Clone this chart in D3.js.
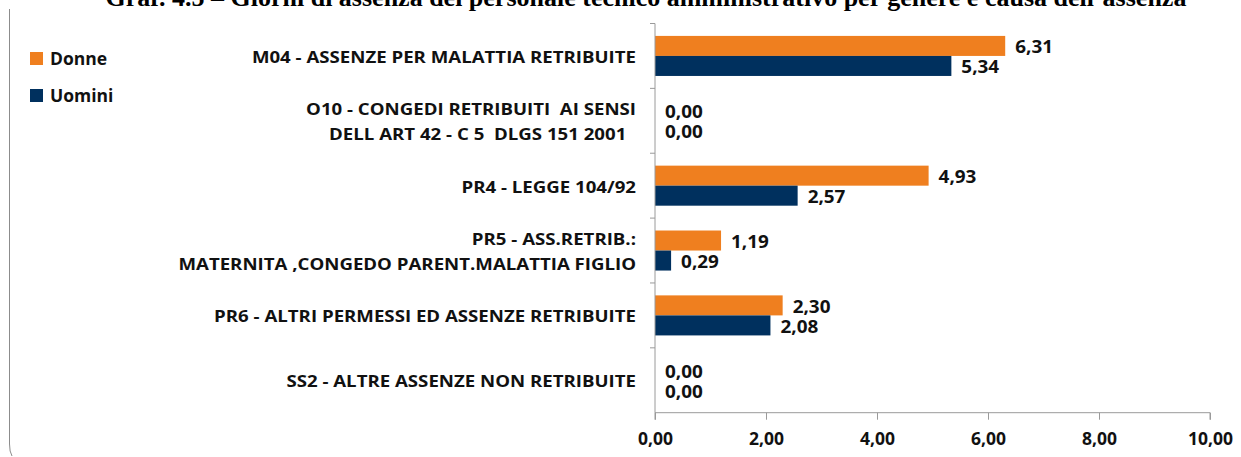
<!DOCTYPE html>
<html>
<head>
<meta charset="utf-8">
<script src="https://cdn.jsdelivr.net/npm/d3@7"></script>
<style>
  html, body { margin: 0; padding: 0; background: #fff; }
  svg { display: block; }
  text { white-space: pre; }
</style>
</head>
<body>
<svg id="chart" width="1241" height="457"></svg>
<script>
// Absence causes (each label split into its display lines)
const categories = [
  ["M04 - ASSENZE PER MALATTIA RETRIBUITE"],
  ["O10 - CONGEDI RETRIBUITI  AI SENSI", "DELL ART 42 - C 5  DLGS 151 2001  "],
  ["PR4 - LEGGE 104/92"],
  ["PR5 - ASS.RETRIB.:", "MATERNITA ,CONGEDO PARENT.MALATTIA FIGLIO"],
  ["PR6 - ALTRI PERMESSI ED ASSENZE RETRIBUITE"],
  ["SS2 - ALTRE ASSENZE NON RETRIBUITE"]
];
const donne  = [6.31, 0.00, 4.93, 1.19, 2.30, 0.00];
const uomini = [5.34, 0.00, 2.57, 0.29, 2.08, 0.00];
const seriesNames = ["Donne", "Uomini"];
const xTicks = [0, 2, 4, 6, 8, 10];
const title = "Graf. 4.5 – Giorni di assenza del personale tecnico amministrativo per genere e causa dell’assenza";

const colors = { Donne: "#EF7F1F", Uomini: "#00305E" };
const axisColor = "#9a9a9a";
const font = "'Open Sans', Lato, sans-serif";

const svg = d3.select("#chart");
const plot = { left: 655, right: 1210, top: 23.5, bottom: 412.7 };

const fmt = v => d3.format(".2f")(v).replace(".", ",");

const x = d3.scaleLinear().domain([0, 10]).range([plot.left, plot.right]);
const y = d3.scaleBand().domain(d3.range(categories.length))
  .range([plot.top, plot.bottom]).paddingInner(0).paddingOuter(0);
const inner = d3.scaleBand().domain(seriesNames)
  .range([0, y.bandwidth()]).paddingOuter(0.62).paddingInner(0);

// Chart area frame (only the left edge is in view)
svg.append("path")
  .attr("d", "M9.5,9 L9.5,444 Q9.5,452 12,456")
  .attr("fill", "none").attr("stroke", "#8c8c8c").attr("stroke-width", 1);

// Title
svg.append("text")
  .attr("x", 646).attr("y", 6)
  .attr("text-anchor", "middle")
  .attr("font-family", "'Liberation Serif', 'Times New Roman', serif")
  .attr("font-weight", "bold").attr("font-size", 26)
  .text(title);

// Bars
const rows = categories.map((c, i) => ({ i, Donne: donne[i], Uomini: uomini[i] }));
const groups = svg.append("g").selectAll("g").data(rows).join("g")
  .attr("transform", d => `translate(0,${y(d.i)})`);

groups.selectAll("rect").data(d => seriesNames.map(s => ({ s, v: d[s] })))
  .join("rect")
  .attr("x", x(0))
  .attr("y", d => inner(d.s))
  .attr("width", d => x(d.v) - x(0))
  .attr("height", inner.bandwidth())
  .attr("fill", d => colors[d.s]);

// Value labels (set slightly wide, like the rest of the chart's lettering)
groups.selectAll("text.val").data(d => seriesNames.map(s => ({ s, v: d[s] })))
  .join("text").attr("class", "val")
  .attr("transform", d => `translate(${x(d.v) + 10},${inner(d.s) + inner.bandwidth() / 2 + 1}) scale(1.08,1)`)
  .attr("dy", "0.36em")
  .attr("font-family", font).attr("font-weight", "bold").attr("font-size", 17.5)
  .attr("fill", "#111")
  .text(d => fmt(d.v));

// X axis
const xAxis = svg.append("g")
  .attr("transform", `translate(0,${plot.bottom})`)
  .call(d3.axisBottom(x).tickValues(xTicks).tickSize(7).tickPadding(13).tickFormat(fmt));
xAxis.select(".domain").attr("stroke", axisColor).attr("d", `M${plot.left},7V0H${plot.right}V7`);
xAxis.selectAll(".tick line").attr("stroke", axisColor);
xAxis.selectAll(".tick text")
  .attr("font-family", font).attr("font-weight", "bold").attr("font-size", 17.5).attr("fill", "#111");

// Y axis: line with ticks on the category boundaries
const yAxis = svg.append("g");
yAxis.append("line")
  .attr("x1", plot.left).attr("x2", plot.left)
  .attr("y1", plot.top).attr("y2", plot.bottom)
  .attr("stroke", axisColor);
yAxis.selectAll("line.tk").data(d3.range(categories.length))
  .join("line").attr("class", "tk")
  .attr("x1", plot.left - 5).attr("x2", plot.left)
  .attr("y1", d => y(d)).attr("y2", d => y(d))
  .attr("stroke", axisColor);

// Category labels, right-aligned against the axis and widened horizontally
const lineH = 25.5;
const labels = svg.append("g").selectAll("text").data(categories).join("text")
  .attr("text-anchor", "end")
  .attr("transform", (lines, i) => `translate(636,${y(i) + y.bandwidth() / 2 + 1}) scale(1.13,1)`)
  .attr("font-family", font).attr("font-weight", "bold").attr("font-size", 16.5)
  .attr("fill", "#111");
labels.each(function (lines) {
  const t0 = -(lines.length - 1) * lineH / 2;
  d3.select(this).selectAll("tspan").data(lines).join("tspan")
    .attr("x", 0)
    .attr("y", (l, k) => t0 + k * lineH)
    .attr("dy", "0.36em")
    .text(l => l);
});

// Legend
const legend = svg.append("g").selectAll("g").data(seriesNames).join("g")
  .attr("transform", (d, i) => `translate(30,${52 + i * 37})`);
legend.append("rect").attr("width", 13).attr("height", 13).attr("fill", d => colors[d]);
legend.append("text")
  .attr("x", 20).attr("y", 6.5).attr("dy", "0.36em")
  .attr("font-family", font).attr("font-weight", "bold").attr("font-size", 17.5)
  .attr("fill", "#111")
  .text(d => d);
</script>
</body>
</html>
